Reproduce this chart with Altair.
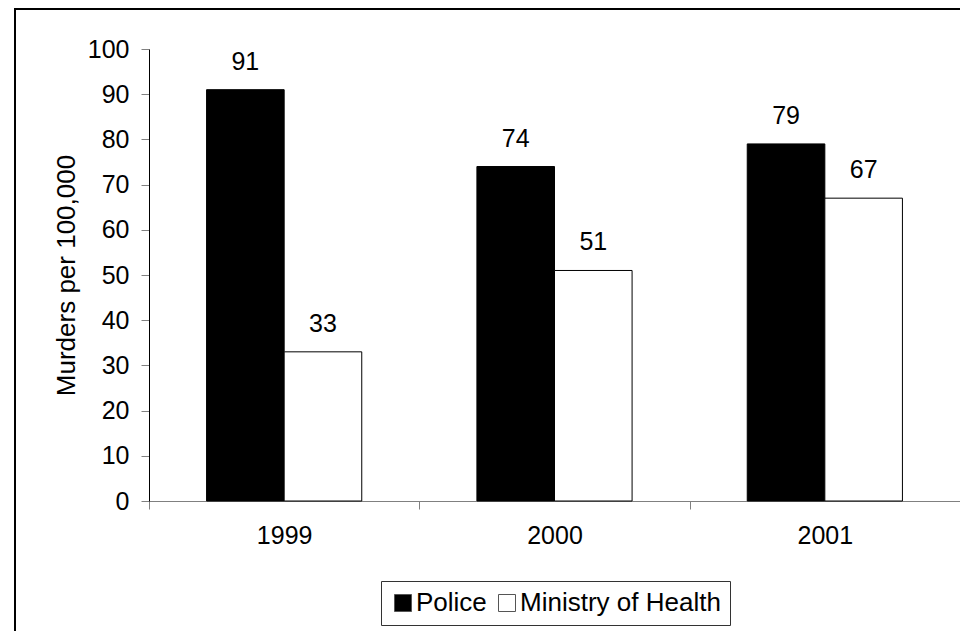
import altair as alt
import pandas as pd

years = ["1999", "2000", "2001"]
police = [91, 74, 79]
ministry = [33, 51, 67]
series = ["Police", "Ministry of Health"]

rows = []
for i, y in enumerate(years):
    rows.append({"year": y, "source": series[0], "value": police[i]})
    rows.append({"year": y, "source": series[1], "value": ministry[i]})
df = pd.DataFrame(rows)

FONT = "Liberation Sans"

x_enc = alt.X("year:N", title=None, sort=years,
              scale=alt.Scale(paddingInner=0, paddingOuter=0),
              axis=alt.Axis(labelAngle=0, tickBand="extent", tickSize=8, labelPadding=14,
                            labelFontSize=25, labelColor="#000000", domainColor="#808080",
                            tickColor="#808080", labelFont=FONT, grid=False))
xo_enc = alt.XOffset("source:N", sort=series,
                     scale=alt.Scale(paddingInner=0, paddingOuter=0.742))

base = alt.Chart(df)

bars = base.mark_bar(stroke="#000000", strokeWidth=1).encode(
    x=x_enc,
    xOffset=xo_enc,
    y=alt.Y("value:Q", title="Murders per 100,000",
            scale=alt.Scale(domain=[0, 100], nice=False),
            axis=alt.Axis(values=list(range(0, 101, 10)), tickSize=8, labelPadding=12,
                          labelFontSize=25, labelFont=FONT, labelColor="#000000",
                          domainColor="#000000", tickColor="#808080", grid=False,
                          titleFontSize=26, titleFont=FONT, titleFontWeight="normal",
                          titleColor="#000000", titleX=-75, titleY=226,
                          titleBaseline="alphabetic", titleAlign="center", titleAngle=-90)),
    fill=alt.Fill("source:N", sort=series,
                  scale=alt.Scale(domain=series, range=["#000000", "#ffffff"]),
                  legend=alt.Legend(title=None, orient="none", legendX=232, legendY=532,
                                    direction="horizontal", symbolType="square",
                                    symbolSize=289, symbolStrokeColor="#555555",
                                    symbolStrokeWidth=1, labelFontSize=26, labelFont=FONT,
                                    labelColor="#000000", labelOffset=0, columnPadding=7,
                                    labelLimit=500, padding=9, strokeColor="#333333")),
)

labels = base.mark_text(baseline="alphabetic", dy=-20, fontSize=25, font=FONT,
                        color="#000000").encode(
    x=alt.X("year:N", sort=years),
    xOffset=alt.XOffset("source:N", sort=series),
    y="value:Q",
    text="value:Q",
)

frame_data = alt.Data(values=[{"a": 1}])
left_line = alt.Chart(frame_data).mark_rule(color="#000000", strokeWidth=2).encode(
    x=alt.value(-134), y=alt.value(-41), y2=alt.value(700))
top_line = alt.Chart(frame_data).mark_rule(color="#000000", strokeWidth=2).encode(
    x=alt.value(-134), x2=alt.value(900), y=alt.value(-40))

chart = alt.layer(bars, labels, left_line, top_line).properties(
    width=811, height=452,
    autosize=alt.AutoSizeParams(type="none"),
    padding={"left": 141, "top": 41, "right": 0, "bottom": 130},
).configure(background="#ffffff").configure_view(stroke=None)

chart.save("out.html", embed_options={"renderer": "svg", "actions": False})
